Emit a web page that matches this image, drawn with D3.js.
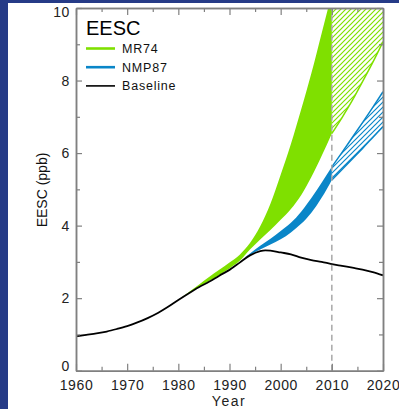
<!DOCTYPE html>
<html>
<head>
<meta charset="utf-8">
<script src="https://cdn.jsdelivr.net/npm/d3@7"></script>
<style>
  html, body { margin: 0; padding: 0; background: #263b87; }
  svg { display: block; }
  text { font-family: "Liberation Sans", Arial, sans-serif; }
</style>
</head>
<body>
<svg id="chart" width="399" height="409"></svg>
<script>
// Baseline EESC (ppb)
const baseYears = [1960,1962,1964,1966,1968,1970,1972,1974,1976,1978,1980,1982,1984,1986,1988,1990,1992,1994,1996,1997,1998,2000,2002,2004,2006,2008,2010,2012,2014,2016,2018,2020];
const baseValues = [0.95,0.99,1.03,1.08,1.15,1.23,1.33,1.45,1.59,1.76,1.95,2.13,2.30,2.45,2.62,2.78,2.98,3.18,3.30,3.32,3.31,3.26,3.21,3.12,3.05,3.00,2.94,2.89,2.84,2.79,2.72,2.63];

// MR74 scenario range, solid up to 2010
const mr74Years = [1980,1982,1984,1986,1988,1990,1992,1994,1996,1998,2000,2002,2004,2006,2008,2010];
const mr74Upper = [1.95,2.16,2.37,2.58,2.78,2.98,3.20,3.52,3.98,4.60,5.40,6.25,7.20,8.20,9.30,10.4];
const mr74Lower = [1.95,2.14,2.31,2.47,2.64,2.82,3.03,3.34,3.62,3.88,4.16,4.46,4.84,5.34,5.92,6.54];
// MR74 after 2010 (hatched; upper bound is off the chart)
const mr74FutYears = [2010,2012,2014,2016,2018,2020];
const mr74FutLower = [6.54,6.98,7.45,7.97,8.50,9.07];

// NMP87 scenario range
const nmpYears = [1993,1995,1997,1999,2001,2003,2005,2007,2009,2010];
const nmpUpper = [3.12,3.34,3.54,3.74,3.96,4.22,4.57,4.97,5.40,5.62];
const nmpLower = [3.12,3.27,3.41,3.55,3.71,3.93,4.19,4.55,5.00,5.26];
const nmpFutYears = [2010,2012,2014,2016,2018,2020];
const nmpFutUpper = [5.62,6.02,6.43,6.84,7.26,7.69];
const nmpFutLower = [5.26,5.55,5.84,6.13,6.43,6.73];

const xTicks = [1960,1970,1980,1990,2000,2010,2020];
const xMinor = [1965,1975,1985,1995,2005,2015];
const yTicks = [0,2,4,6,8,10];
const yMinor = [1,3,5,7,9];
const splitYear = 2010;

const legendItems = [
  {label: "MR74", color: "#7fe000", width: 2.6},
  {label: "NMP87", color: "#0a86c8", width: 2.6},
  {label: "Baseline", color: "#000000", width: 1.6}
];

const GREEN = "#7fe000", BLUE = "#0a86c8", AXIS = "#808080";

const svg = d3.select("#chart");
// white panel over the dark blue page
svg.append("rect").attr("x", 8).attr("y", 3).attr("width", 391).attr("height", 406).attr("fill", "#ffffff");

const x = d3.scaleLinear().domain([1960, 2020]).range([76, 383]);
const y = d3.scaleLinear().domain([0, 10]).range([370.7, 8]);

const defs = svg.append("defs");
defs.append("clipPath").attr("id", "plotClip")
  .append("rect").attr("x", x(1960)).attr("y", y(10)).attr("width", x(2020) - x(1960)).attr("height", y(0) - y(10));

function hatch(id, color, s) {
  const p = defs.append("pattern").attr("id", id).attr("patternUnits", "userSpaceOnUse")
    .attr("width", s).attr("height", s);
  p.append("path").attr("d", `M${-1},${1} L${1},${-1} M0,${s} L${s},0 M${s-1},${s+1} L${s+1},${s-1}`)
    .attr("stroke", color).attr("stroke-width", 1.2);
}
hatch("hatchGreen", GREEN, 5);
hatch("hatchBlue", BLUE, 5);

const plot = svg.append("g").attr("clip-path", "url(#plotClip)");
const curve = d3.curveMonotoneX;

const zip = (xs, a, b) => xs.map((v, i) => ({x: v, hi: a[i], lo: b ? b[i] : null}));

const band = d3.area().curve(curve).x(d => x(d.x)).y0(d => y(d.lo)).y1(d => y(d.hi));
const edgeHi = d3.line().curve(curve).x(d => x(d.x)).y(d => y(d.hi));
const edgeLo = d3.line().curve(curve).x(d => x(d.x)).y(d => y(d.lo));

// MR74 solid range
plot.append("path").datum(zip(mr74Years, mr74Upper, mr74Lower)).attr("d", band).attr("fill", GREEN);
// MR74 hatched range after 2010, bounded above by the chart top
const mrFut = mr74FutYears.map((v, i) => ({x: v, hi: y.domain()[1], lo: mr74FutLower[i]}));
plot.append("path").datum(mrFut).attr("d", band).attr("fill", "url(#hatchGreen)");
plot.append("path").datum(mrFut).attr("d", edgeLo).attr("fill", "none").attr("stroke", GREEN).attr("stroke-width", 1.5);

// NMP87 solid and hatched ranges
plot.append("path").datum(zip(nmpYears, nmpUpper, nmpLower)).attr("d", band).attr("fill", BLUE);
const nmpFut = zip(nmpFutYears, nmpFutUpper, nmpFutLower);
plot.append("path").datum(nmpFut).attr("d", band).attr("fill", "url(#hatchBlue)");
plot.append("path").datum(nmpFut).attr("d", edgeHi).attr("fill", "none").attr("stroke", BLUE).attr("stroke-width", 1.5);
plot.append("path").datum(nmpFut).attr("d", edgeLo).attr("fill", "none").attr("stroke", BLUE).attr("stroke-width", 1.5);

// Baseline
plot.append("path").datum(baseYears.map((v, i) => ({x: v, hi: baseValues[i]})))
  .attr("d", edgeHi).attr("fill", "none").attr("stroke", "#000").attr("stroke-width", 1.8);

// 2010 divider
svg.append("line").attr("x1", x(splitYear)).attr("x2", x(splitYear)).attr("y1", y(0)).attr("y2", y(10))
  .attr("stroke", "#a8a8a8").attr("stroke-width", 1.5).attr("stroke-dasharray", "6,4");

// Axes: ticks point inward on all four sides
function styleAxis(g) {
  g.selectAll("path.domain").attr("stroke", AXIS).attr("stroke-width", 1.5);
  g.selectAll(".tick line").attr("stroke", AXIS).attr("stroke-width", 1.2);
  g.selectAll(".tick text").attr("fill", "#222").attr("font-size", 14).attr("letter-spacing", 0.6)
    .style("font-family", '"Liberation Sans", Arial, sans-serif');
}
const bottom = svg.append("g").attr("transform", `translate(0,${y(0)})`)
  .call(d3.axisBottom(x).tickValues(xTicks).tickFormat(d3.format("d")).tickSizeInner(-7).tickSizeOuter(0).tickPadding(9.5));
bottom.call(styleAxis);
svg.append("g").attr("transform", `translate(0,${y(0)})`)
  .call(d3.axisBottom(x).tickValues(xMinor).tickFormat("").tickSizeInner(-4).tickSizeOuter(0)).call(styleAxis);
svg.append("g").attr("transform", `translate(0,${y(10)})`)
  .call(d3.axisTop(x).tickValues(xTicks).tickFormat("").tickSizeInner(-7).tickSizeOuter(0)).call(styleAxis);
svg.append("g").attr("transform", `translate(0,${y(10)})`)
  .call(d3.axisTop(x).tickValues(xMinor).tickFormat("").tickSizeInner(-4).tickSizeOuter(0)).call(styleAxis);

const left = svg.append("g").attr("transform", `translate(${x(1960)},0)`)
  .call(d3.axisLeft(y).tickValues(yTicks).tickFormat(d3.format("d")).tickSizeInner(-6).tickSizeOuter(0).tickPadding(6));
left.call(styleAxis);
// end labels sit just inside the axis range
left.selectAll(".tick text").attr("dy", d => d === 0 ? "0.02em" : d === 10 ? "0.64em" : "0.32em");
svg.append("g").attr("transform", `translate(${x(1960)},0)`)
  .call(d3.axisLeft(y).tickValues(yMinor).tickFormat("").tickSizeInner(-4).tickSizeOuter(0)).call(styleAxis);
svg.append("g").attr("transform", `translate(${x(2020)},0)`)
  .call(d3.axisRight(y).tickValues(yTicks).tickFormat("").tickSizeInner(-6).tickSizeOuter(0)).call(styleAxis);
svg.append("g").attr("transform", `translate(${x(2020)},0)`)
  .call(d3.axisRight(y).tickValues(yMinor).tickFormat("").tickSizeInner(-4).tickSizeOuter(0)).call(styleAxis);

// Axis titles
svg.append("text").attr("x", 229).attr("y", 406).attr("text-anchor", "middle")
  .attr("font-size", 14).attr("letter-spacing", 1.5).attr("fill", "#222").text("Year");
svg.append("text").attr("transform", "translate(47,190) rotate(-90)").attr("text-anchor", "middle")
  .attr("font-size", 14).attr("fill", "#111").text("EESC (ppb)");

// Legend
const lg = svg.append("g");
lg.append("text").attr("x", 86).attr("y", 35).attr("font-size", 20).attr("fill", "#000").text("EESC");
legendItems.forEach((d, i) => {
  const yy = 48.5 + i * 18.7;
  lg.append("line").attr("x1", 86).attr("x2", 115).attr("y1", yy).attr("y2", yy)
    .attr("stroke", d.color).attr("stroke-width", d.width);
  lg.append("text").attr("x", 122).attr("y", yy + 4.5).attr("font-size", 12.5).attr("letter-spacing", 0.8)
    .attr("fill", "#111").text(d.label);
});
</script>
</body>
</html>
